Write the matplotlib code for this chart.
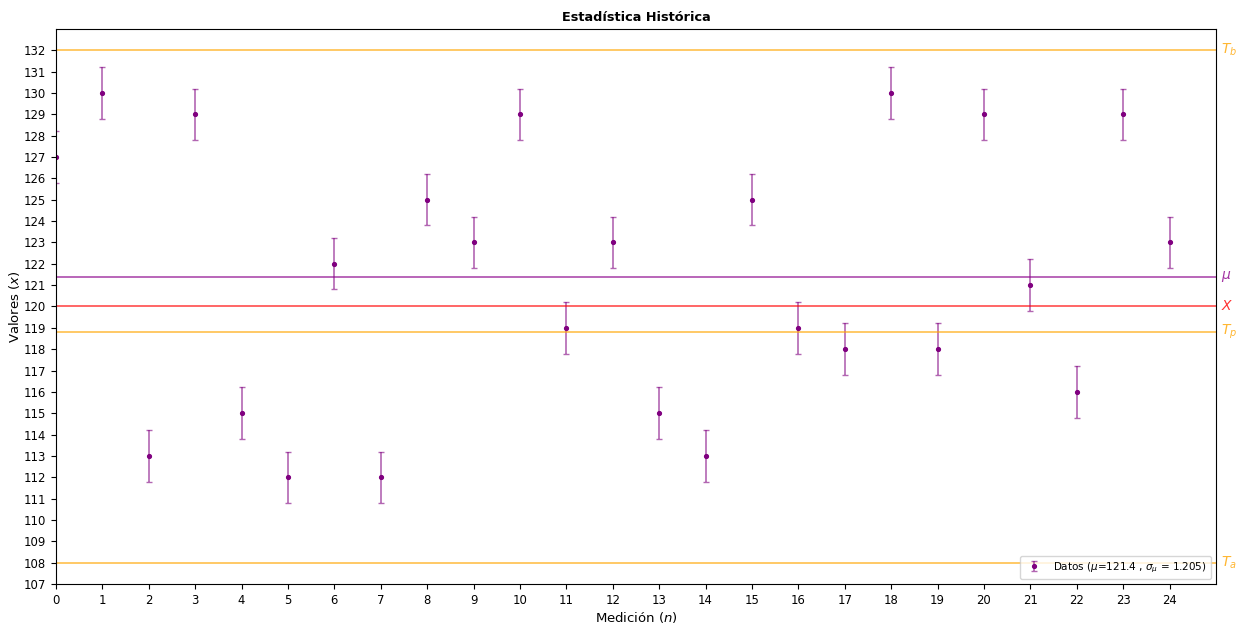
import matplotlib
matplotlib.use('Agg')
import matplotlib.pyplot as plt
import numpy as np

# mediciones historicas
n = np.arange(25)
valores = [127, 130, 113, 129, 115, 112, 122, 112, 125, 123, 129, 119, 123,
           115, 113, 125, 119, 118, 130, 118, 129, 121, 116, 129, 123]
sigma_mu = 1.205
mu = 121.4
X = 120
T_a = 108
T_b = 132
T_p = 118.8

fig = plt.figure(figsize=(12.36, 6.23), dpi=100)
ax = fig.add_axes([0.0453, 0.0626, 0.9385, 0.891])

ax.errorbar(n, valores, yerr=sigma_mu, fmt='.', color='purple', ecolor=(0.5, 0, 0.5, 0.6),
            elinewidth=1.2, capsize=2, markersize=5.5,
            label=r'Datos ($\mu$=%.1f , $\sigma_{\mu}$ = %.3f)' % (mu, sigma_mu))

lineas = [(T_b, 'orange', r'$T_b$'), (mu, 'darkmagenta', r'$\mu$'),
          (X, 'red', r'$X$'), (T_p, 'orange', r'$T_p$'), (T_a, 'orange', r'$T_a$')]
for y, c, lab in lineas:
    ax.axhline(y, color=c, alpha=0.7, lw=1.2)
    ax.text(25.1, y, lab, color=c, alpha=0.8, fontsize=10, va='center', ha='left',
            clip_on=False)

ax.set_xlim(0, 25)
ax.set_ylim(107, 133)
ax.set_xticks(n)
ax.set_yticks(np.arange(107, 133))
ax.tick_params(labelsize=8.4)
ax.set_xlabel(r'Medición ($n$)', fontsize=9.5, labelpad=2)
ax.set_ylabel(r'Valores ($x$)', fontsize=9.5, labelpad=1)
ax.set_title('Estadística Histórica', fontweight='bold', fontsize=9.3)
ax.legend(loc='lower right', fontsize=7.5)

fig.savefig('out.png', dpi=100)
